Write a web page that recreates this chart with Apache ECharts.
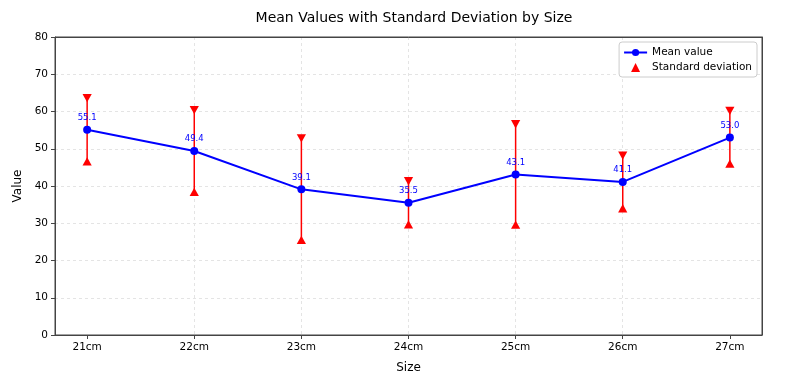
<!DOCTYPE html>
<html><head><meta charset="utf-8">
<script src="https://cdn.jsdelivr.net/npm/echarts@6/dist/echarts.min.js"></script>
<style>html,body{margin:0;padding:0;background:#fff}#c{width:800px;height:383px}</style>
</head><body><div id="c"></div>
<script>
var categories = ['21cm','22cm','23cm','24cm','25cm','26cm','27cm'];
var meanValues = [55.1, 49.4, 39.1, 35.5, 43.1, 41.1, 53.0];
var lowerValues = [46.5, 38.3, 25.4, 29.6, 29.5, 33.9, 45.9];
var upperValues = [63.7, 60.5, 52.9, 41.4, 56.7, 48.3, 60.3];
var yTicks = [0,10,20,30,40,50,60,70,80];

var idx = categories.map(function(_, i){ return i; });
var font = 'DejaVu Sans';
var axisColor = '#444';
var chart = echarts.init(document.getElementById('c'), null, {renderer:'canvas'});
chart.setOption({
  animation:false,
  textStyle:{fontFamily:font},
  title:{text:'Mean Values with Standard Deviation by Size', left:409, top:6, textAlign:'center',
    textStyle:{fontFamily:font, fontSize:14, fontWeight:'normal', color:'#000'}},
  grid:{left:55, right:38, top:37, bottom:48, show:true, borderColor:axisColor, borderWidth:1, z:10},
  legend:{right:43, top:42, orient:'vertical', itemGap:4, itemWidth:23, itemHeight:9,
    backgroundColor:'#fff', borderColor:'#ccc', borderWidth:1, borderRadius:3, padding:[5,5,4,4],
    textStyle:{fontFamily:font, fontSize:10.5, color:'#000'},
    data:[{name:'Mean value'},{name:'Standard deviation', icon:'path://M5,0 L10,10 L0,10 Z', itemStyle:{color:'#ff0000'}}]},
  xAxis:[{type:'value', min:-0.3, max:6.3,
    name:'Size', nameLocation:'middle', nameGap:27, nameTextStyle:{fontSize:12, color:'#000'},
    axisLine:{show:true, onZero:false, lineStyle:{color:axisColor}},
    axisTick:{show:true, customValues:idx, length:4, lineStyle:{color:axisColor}},
    axisLabel:{customValues:idx, color:'#000', fontSize:10.5, margin:7, formatter:function(v){ return categories[Math.round(v)]; }},
    splitLine:{show:true, showMinLine:false, showMaxLine:false, lineStyle:{color:'#e4e4e4', type:[3,3]}}
  },{type:'value', position:'top', min:-0.3, max:6.3, axisLine:{show:true, onZero:false, lineStyle:{color:axisColor}},
    axisTick:{show:false}, axisLabel:{show:false}, splitLine:{show:false}}],
  yAxis:[{type:'value', min:0, max:80, interval:10,
    name:'Value', nameLocation:'middle', nameGap:28, nameTextStyle:{fontSize:12, color:'#000'},
    axisLine:{show:true, onZero:false, lineStyle:{color:axisColor}},
    axisTick:{show:true, length:4, lineStyle:{color:axisColor}},
    axisLabel:{color:'#000', fontSize:10.5, margin:7, formatter:function(v){ return yTicks.indexOf(v) >= 0 ? String(v) : ''; }},
    splitLine:{show:true, showMinLine:false, showMaxLine:false, lineStyle:{color:'#e4e4e4', type:[3,3]}}
  },{type:'value', position:'right', min:0, max:80, interval:10, axisLine:{show:true, onZero:false, lineStyle:{color:axisColor}},
    axisTick:{show:false}, axisLabel:{show:false}, splitLine:{show:false}}],
  series:[
    {name:'Standard deviation', type:'custom', z:3, symbolKeepAspect:true,
      itemStyle:{color:'#ff0000'},
      data: idx.map(function(i){ return [i, lowerValues[i], upperValues[i]]; }),
      encode:{x:0, y:[1,2]},
      renderItem:function(params, api){
        var lo = api.coord([api.value(0), api.value(1)]);
        var hi = api.coord([api.value(0), api.value(2)]);
        var s = 4.6;
        return {type:'group', children:[
          {type:'line', shape:{x1:lo[0], y1:lo[1], x2:hi[0], y2:hi[1]}, style:{stroke:'#ff0000', lineWidth:1.5}},
          {type:'polygon', shape:{points:[[lo[0], lo[1]-s],[lo[0]-s, lo[1]+s*0.8],[lo[0]+s, lo[1]+s*0.8]]}, style:{fill:'#ff0000'}},
          {type:'polygon', shape:{points:[[hi[0], hi[1]+s],[hi[0]-s, hi[1]-s*0.8],[hi[0]+s, hi[1]-s*0.8]]}, style:{fill:'#ff0000'}}
        ]};
      }
    },
    {name:'Mean value', type:'line', z:4,
      data: idx.map(function(i){ return [i, meanValues[i]]; }),
      symbol:'circle', symbolSize:8,
      lineStyle:{color:'#0000ff', width:2}, itemStyle:{color:'#0000ff'},
      label:{show:true, position:'top', distance:3.5, color:'#0000ff', fontSize:8.5,
        formatter:function(p){ return p.value[1].toFixed(1); }}
    }
  ]
});
</script></body></html>
